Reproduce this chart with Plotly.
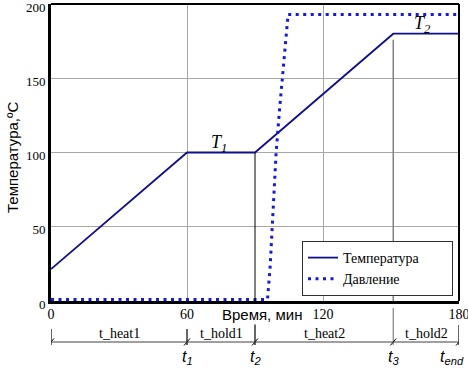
import plotly.graph_objects as go

# Data
t_temp = [0, 60, 90, 151, 180]
temp = [21.5, 100, 100, 180, 180]

t_press = [0, 95.5, 96.7, 97.9, 99.3, 100.8, 102.0, 103.2, 104.1, 104.6, 180]
press = [1, 1, 23.6, 56.5, 99.5, 128.5, 150, 173.6, 188, 193, 193]

x_ticks = [0, 60, 120, 180]
y_ticks = [0, 50, 100, 150, 200]

stage_times = [0, 60, 90, 151, 180]
stage_marks = ["<i>t<sub>1</sub></i>", "<i>t<sub>2</sub></i>", "<i>t<sub>3</sub></i>", "<i>t<sub>end</sub></i>"]
stage_names = ["t_heat1", "t_hold1", "t_heat2", "t_hold2"]

T_labels = ["<i>T<sub>1</sub></i>", "<i>T<sub>2</sub></i>"]
T_label_x = [74, 164]
T_label_y = [106, 186]

serif = "Times New Roman, Liberation Serif, serif"
sans = "Arial, Liberation Sans, sans-serif"
NB = "\u00a0"

fig = go.Figure()
fig.add_trace(go.Scatter(x=t_temp, y=temp, mode="lines", name="Температура" + NB * 8,
                         line=dict(color="#10108c", width=1.8)))
fig.add_trace(go.Scatter(x=t_press, y=press, mode="lines", name="Давление",
                         line=dict(color="#1818d8", width=3, dash="3px,4.5px")))

H = 297.0  # plot height px
def py(px_below):  # px below bottom axis -> paper y
    return -px_below / H

shapes = []
# frame top and right
shapes.append(dict(type="line", xref="paper", yref="paper", x0=0, x1=1, y0=1, y1=1,
                   line=dict(color="black", width=2)))
shapes.append(dict(type="line", xref="paper", yref="paper", x0=1, x1=1, y0=0, y1=1,
                   line=dict(color="black", width=2)))
# t2 vertical (black) inside plot
shapes.append(dict(type="line", xref="x", yref="y", x0=stage_times[2], x1=stage_times[2],
                   y0=0, y1=temp[2], line=dict(color="black", width=1)))
# t3 vertical (gray) inside plot
shapes.append(dict(type="line", xref="x", yref="y", x0=stage_times[3], x1=stage_times[3],
                   y0=0, y1=176, line=dict(color="#808080", width=1.5)))
# below-axis markers
below_start = {0: 28, 60: 28, 90: 22, 151: 7, 180: 24}
for t in stage_times:
    col = "#808080" if t == 151 else "black"
    shapes.append(dict(type="line", xref="x", yref="paper", x0=t, x1=t,
                       y0=py(below_start[t]), y1=py(44), line=dict(color=col, width=1.2)))
    # slash mark
    shapes.append(dict(type="line", xref="x", yref="paper", x0=t - 1.3, x1=t + 1.3,
                       y0=py(44.5), y1=py(37.5), line=dict(color="black", width=1)))
# dimension line
shapes.append(dict(type="line", xref="x", yref="paper", x0=0, x1=180,
                   y0=py(41), y1=py(41), line=dict(color="#404040", width=1)))

annotations = []
annotations.append(dict(text="Время, мин", xref="paper", yref="paper",
                        x=(262 - 51) / 408, y=py(13), showarrow=False,
                        font=dict(family=sans, size=15, color="black"),
                        xanchor="center", yanchor="middle", bgcolor="white"))
annotations.append(dict(text="Температура,ºC", xref="paper", yref="paper",
                        x=-(51 - 12) / 408, y=(301 - 158) / H, showarrow=False,
                        textangle=-90, font=dict(family=sans, size=15, color="black"),
                        xanchor="center", yanchor="middle"))
for i, name in enumerate(stage_names):
    xm = (stage_times[i] + stage_times[i + 1]) / 2
    annotations.append(dict(text=name, xref="x", yref="paper", x=xm, y=py(32),
                            showarrow=False, font=dict(family=serif, size=14, color="black"),
                            xanchor="center", yanchor="middle"))
for i, lab in enumerate(stage_marks):
    xoff = -3 if i == 3 else 0
    annotations.append(dict(text=lab, xref="x", yref="paper", x=stage_times[i + 1] + xoff,
                            y=py(57), showarrow=False,
                            font=dict(family=sans, size=16, color="black"),
                            xanchor="center", yanchor="middle"))
for lab, xx, yy in zip(T_labels, T_label_x, T_label_y):
    annotations.append(dict(text=lab, xref="x", yref="y", x=xx, y=yy, showarrow=False,
                            font=dict(family=serif, size=18, color="black"),
                            xanchor="center", yanchor="middle"))

fig.update_layout(
    width=468, height=370,
    margin=dict(l=51, r=9, t=4, b=69, autoexpand=False),
    plot_bgcolor="white", paper_bgcolor="white",
    font=dict(family=serif, color="black"),
    showlegend=True,
    legend=dict(x=(302 - 51) / 408, y=(301 - 296) / H, xanchor="left", yanchor="bottom",
                bgcolor="white", bordercolor="#303030", borderwidth=1,
                font=dict(family=serif, size=14, color="black"),
                tracegroupgap=0, itemwidth=30),
    xaxis=dict(range=[0, 180], tickvals=x_ticks, showgrid=True, gridcolor="#a8a8a8",
               gridwidth=1, zeroline=False, showline=True, linecolor="black", linewidth=3,
               ticks="", automargin=False, ticklabeloverflow="allow",
               ticklabelstandoff=-2,
               tickfont=dict(family=serif, size=14, color="black")),
    yaxis=dict(range=[0, 200], tickvals=y_ticks, showgrid=True, gridcolor="#a8a8a8",
               gridwidth=1, zeroline=False, showline=True, linecolor="black", linewidth=3,
               ticks="", automargin=False, ticklabeloverflow="allow",
               ticklabelshift=3,
               tickfont=dict(family=serif, size=13, color="black")),
    shapes=shapes, annotations=annotations,
)

fig.write_html("out.html", config={"displayModeBar": False},
               post_script="document.body.style.margin='0';document.body.style.padding='0';document.documentElement.style.overflow='hidden';")
